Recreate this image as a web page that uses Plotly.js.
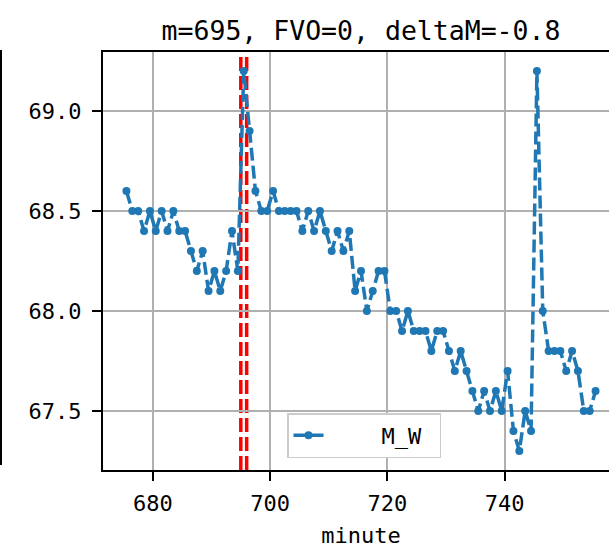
<!DOCTYPE html>
<html><head><meta charset="utf-8">
<script src="https://cdn.plot.ly/plotly-3.0.1.min.js"></script>
<style>html,body{margin:0;padding:0;overflow:hidden;background:#fff}#chart{width:630px;height:551px}</style>
</head><body><div id="chart"></div>
<script>
const minutes = [675.5,676.5,677.5,678.5,679.5,680.5,681.5,682.5,683.5,684.5,
  685.5,686.5,687.5,688.5,689.5,690.5,691.5,692.5,693.5,694.5,
  695.5,696.5,697.5,698.5,699.5,700.5,701.5,702.5,703.5,704.5,
  705.5,706.5,707.5,708.5,709.5,710.5,711.5,712.5,713.5,714.5,
  715.5,716.5,717.5,718.5,719.5,720.5,721.5,722.5,723.5,724.5,
  725.5,726.5,727.5,728.5,729.5,730.5,731.5,732.5,733.5,734.5,
  735.5,736.5,737.5,738.5,739.5,740.5,741.5,742.5,743.5,744.5,
  745.5,746.5,747.5,748.5,749.5,750.5,751.5,752.5,753.5,754.5,
  755.5];
const mwValues = [68.6,68.5,68.5,68.4,68.5,68.4,68.5,68.4,68.5,68.4,
  68.4,68.3,68.2,68.3,68.1,68.2,68.1,68.2,68.4,68.2,
  69.2,68.9,68.6,68.5,68.5,68.6,68.5,68.5,68.5,68.5,
  68.4,68.5,68.4,68.5,68.4,68.3,68.4,68.3,68.4,68.1,
  68.2,68.0,68.1,68.2,68.2,68.0,68.0,67.9,68.0,67.9,
  67.9,67.9,67.8,67.9,67.9,67.8,67.7,67.8,67.7,67.6,
  67.5,67.6,67.5,67.6,67.5,67.7,67.4,67.3,67.5,67.4,
  69.2,68.0,67.8,67.8,67.8,67.7,67.8,67.7,67.5,67.5,
  67.6];
const markMinutes = [695, 696];
const xTickValues = [680, 700, 720, 740, 760];
const yTickValues = [67.5, 68.0, 68.5, 69.0];
const yTickLabels = ['67.5', '68.0', '68.5', '69.0'];
const titleText = 'm=695, FVO=0, deltaM=-0.8';
const xTitle = 'minute';
const seriesName = '\u00a0\u00a0\u00a0\u00a0M_W\u00a0';

const FONT = 'DejaVu Sans Mono, monospace';
const W = 630, H = 551, L = 103, R = 11, T = 52, B = 81;
const plotW = W - L - R;

const trace = {
  x: minutes, y: mwValues, name: seriesName, type: 'scatter', mode: 'lines+markers',
  line: {color: '#1f77b4', width: 3.5, dash: '13px,5px'},
  marker: {color: '#1f77b4', size: 8}
};

const shapes = markMinutes.map(m => ({
  type: 'line', xref: 'x', yref: 'paper', x0: m, x1: m, y0: 0, y1: 1,
  line: {color: 'red', width: 3.5, dash: '14px,5px'}, layer: 'between'
}));
shapes.push({
  type: 'line', xref: 'paper', yref: 'paper',
  x0: (1 - L) / plotW, x1: (1 - L) / plotW, y0: 0.012, y1: 1.005,
  line: {color: 'black', width: 2}
});

const axisCommon = {
  showline: true, linecolor: 'black', linewidth: 2, mirror: true,
  ticks: 'outside', ticklen: 9, tickwidth: 2, tickcolor: 'black',
  showgrid: true, gridcolor: '#b0b0b0', gridwidth: 2, zeroline: false,
  tickfont: {family: FONT, size: 22, color: 'black'}
};

const layout = {
  width: W, height: H,
  margin: {l: L, r: R, t: T, b: B, pad: 0},
  paper_bgcolor: 'white', plot_bgcolor: 'white',
  font: {family: FONT, color: 'black'},
  title: {text: titleText, font: {family: FONT, size: 26.5, color: 'black'},
    x: 0.5, xref: 'paper', xanchor: 'center', y: 1 - 31 / H, yref: 'container', yanchor: 'middle'},
  xaxis: Object.assign({}, axisCommon, {
    range: [671.5, 759.5], tickvals: xTickValues, ticklabelstandoff: 4,
    title: {text: xTitle, font: {family: FONT, size: 22, color: 'black'}, standoff: 12}
  }),
  yaxis: Object.assign({}, axisCommon, {
    range: [67.205, 69.295], tickvals: yTickValues, ticktext: yTickLabels, ticklabelstandoff: 6
  }),
  showlegend: true,
  legend: {x: (287 - L) / plotW, y: (470 - 458) / (H - T - B), xanchor: 'left', yanchor: 'bottom',
    bgcolor: 'white', bordercolor: '#cccccc', borderwidth: 1.5,
    font: {family: FONT, size: 22, color: 'black'}},
  shapes: shapes
};

Plotly.newPlot('chart', [trace], layout, {staticPlot: true, displayModeBar: false});
</script></body></html>
